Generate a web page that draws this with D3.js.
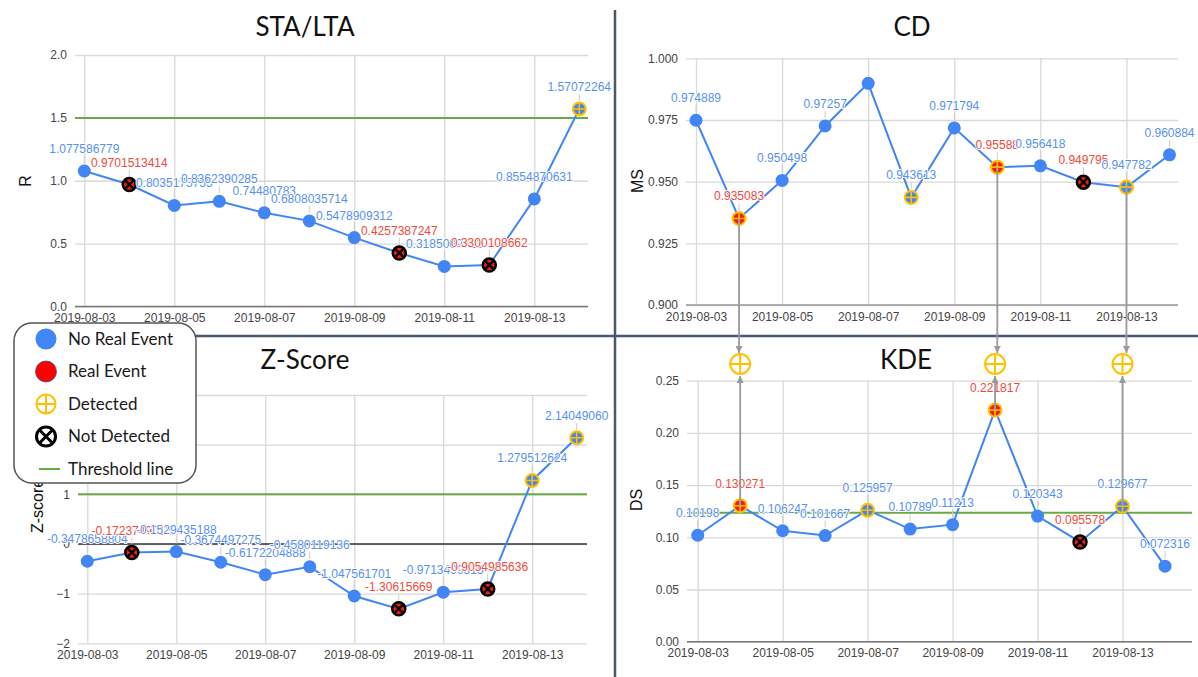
<!DOCTYPE html>
<html>
<head>
<meta charset="utf-8">
<script src="https://cdn.jsdelivr.net/npm/d3@7"></script>
<style>
  body { margin: 0; background: #fff; }
  svg { display: block; font-family: "Liberation Sans", Arial, sans-serif; }
</style>
</head>
<body>
<svg id="chart" width="1198" height="677"></svg>
<script>
// ---- data ----
var dates = ["2019-08-03", "2019-08-04", "2019-08-05", "2019-08-06", "2019-08-07", "2019-08-08",
             "2019-08-09", "2019-08-10", "2019-08-11", "2019-08-12", "2019-08-13", "2019-08-14"];
var realEvent = [0, 1, 0, 0, 0, 0, 0, 1, 0, 1, 0, 0];

var staltaValues = [1.077586779, 0.9701513414, 0.8035175755, 0.8362390285, 0.74480783, 0.6808035714,
                    0.5478909312, 0.4257387247, 0.3185009713, 0.3300108662, 0.8554870631, 1.57072264];
var staltaLabels = ["1.077586779", "0.9701513414", "0.8035175755", "0.8362390285", "0.74480783", "0.6808035714",
                    "0.5478909312", "0.4257387247", "0.3185009713", "0.3300108662", "0.8554870631", "1.57072264"];
var staltaDetected = [0, 0, 0, 0, 0, 0, 0, 0, 0, 0, 0, 1];

var cdValues = [0.974889, 0.935083, 0.950498, 0.97257, 0.98987, 0.943613,
                0.971794, 0.95588, 0.956418, 0.949795, 0.947782, 0.960884];
var cdLabels = ["0.974889", "0.935083", "0.950498", "0.97257", "", "0.943613",
                "0.971794", "0.95588", "0.956418", "0.949795", "0.947782", "0.960884"];
var cdDetected = [0, 1, 0, 0, 0, 1, 0, 1, 0, 0, 1, 0];

var zValues = [-0.3478658804, -0.1723749015, -0.1529435188, -0.3674497275, -0.6172204888, -0.4580119136,
               -1.047561701, -1.30615669, -0.9713499315, -0.9054985636, 1.279512624, 2.14049060];
var zLabels = ["-0.3478658804", "-0.1723749015", "-0.1529435188", "-0.3674497275", "-0.6172204888", "-0.4580119136",
               "-1.047561701", "-1.30615669", "-0.9713499315", "-0.9054985636", "1.279512624", "2.14049060"];
var zDetected = [0, 0, 0, 0, 0, 0, 0, 0, 0, 0, 1, 1];

var kdeValues = [0.10198, 0.130271, 0.106247, 0.101667, 0.125957, 0.10789,
                 0.11213, 0.221817, 0.120343, 0.095578, 0.129677, 0.072316];
var kdeLabels = ["0.10198", "0.130271", "0.106247", "0.101667", "0.125957", "0.10789",
                 "0.11213", "0.221817", "0.120343", "0.095578", "0.129677", "0.072316"];
var kdeDetected = [0, 1, 0, 0, 1, 0, 0, 1, 0, 0, 1, 0];

var legendItems = ["No Real Event", "Real Event", "Detected", "Not Detected", "Threshold line"];

// ---- styling ----
var blue = "#4285f4", red = "#f21c12", yellow = "#ffc000", green = "#6aaa45";
var labelBlue = "#5890f2", labelRed = "#ef4a3c";
var parse = d3.timeParse("%Y-%m-%d");
var fmtDate = d3.timeFormat("%Y-%m-%d");

var svg = d3.select("#chart");

var defs = svg.append("defs");
defs.append("marker")
    .attr("id", "arrow")
    .attr("viewBox", "0 0 10 10")
    .attr("refX", 10).attr("refY", 5)
    .attr("markerWidth", 7).attr("markerHeight", 7)
    .attr("markerUnits", "userSpaceOnUse")
    .attr("orient", "auto")
  .append("path")
    .attr("d", "M0,0L10,5L0,10Z")
    .attr("fill", "#9a9a9a");

// point marker: plain / detected (yellow ⊕) / missed real event (black ⊗)
function drawMarker(g, cx, cy, real, detected, r) {
  if (detected) {
    g.append("circle").attr("cx", cx).attr("cy", cy).attr("r", r)
      .attr("fill", real ? red : blue).attr("stroke", yellow).attr("stroke-width", 2);
    g.append("path")
      .attr("d", `M${cx - r},${cy}H${cx + r}M${cx},${cy - r}V${cy + r}`)
      .attr("stroke", yellow).attr("stroke-width", 1.6);
  } else if (real) {
    var k = r * 0.72;
    g.append("circle").attr("cx", cx).attr("cy", cy).attr("r", r)
      .attr("fill", red).attr("stroke", "#000").attr("stroke-width", 2.5);
    g.append("path")
      .attr("d", `M${cx - k},${cy - k}L${cx + k},${cy + k}M${cx - k},${cy + k}L${cx + k},${cy - k}`)
      .attr("stroke", "#000").attr("stroke-width", 2.4);
  } else {
    g.append("circle").attr("cx", cx).attr("cy", cy).attr("r", r).attr("fill", blue);
  }
}

function drawPanel(p) {
  var g = svg.append("g");

  var x = d3.scaleTime()
    .domain([parse(dates[0]), parse(dates[dates.length - 1])])
    .range([p.xFirst, p.xLast]);
  var y = d3.scaleLinear().domain(p.yDomain).range([p.bottom, p.top]);

  // y grid + labels
  var yAxis = g.append("g")
    .attr("transform", `translate(${p.left},0)`)
    .call(d3.axisLeft(y).tickValues(p.yTicks).tickFormat(d3.format(p.fmt))
      .tickSize(-(p.right - p.left)).tickPadding(8));
  yAxis.select(".domain").remove();
  yAxis.selectAll("line").attr("stroke", "#d9d9d9").attr("stroke-width", 1.3);
  yAxis.selectAll("text").attr("fill", "#444").style("font-size", "12px");

  // x grid + labels
  var xAxis = g.append("g")
    .attr("transform", `translate(0,${p.bottom})`)
    .call(d3.axisBottom(x).tickValues(dates.filter((d, i) => i % 2 === 0).map(parse))
      .tickFormat(fmtDate).tickSize(-(p.bottom - p.top)).tickPadding(7));
  xAxis.select(".domain").remove();
  xAxis.selectAll("line").attr("stroke", "#d9d9d9").attr("stroke-width", 1.3);
  xAxis.selectAll("text").attr("fill", "#444").style("font-size", "12px");

  // baseline
  g.append("line")
    .attr("x1", p.left).attr("x2", p.right)
    .attr("y1", y(p.baseline)).attr("y2", y(p.baseline))
    .attr("stroke", p.baselineColor).attr("stroke-width", 1.4);

  // threshold
  if (p.threshold != null) {
    g.append("line")
      .attr("x1", p.left).attr("x2", p.right)
      .attr("y1", y(p.threshold)).attr("y2", y(p.threshold))
      .attr("stroke", green).attr("stroke-width", 2);
  }

  // title + axis title
  g.append("text")
    .attr("x", p.titleX).attr("y", p.titleY)
    .attr("text-anchor", "middle")
    .style("font-family", "Lato, 'Open Sans', sans-serif")
    .style("font-size", "26px")
    .attr("fill", "#111")
    .text(p.title);
  g.append("text")
    .attr("transform", `translate(${p.axisTitleX},${p.axisTitleY}) rotate(-90)`)
    .attr("text-anchor", "middle")
    .attr("dy", "0.35em")
    .style("font-size", "16px")
    .attr("fill", "#111")
    .text(p.axisTitle);

  var pts = dates.map((d, i) => ({ date: parse(d), v: p.values[i], label: p.labels[i],
                                   real: realEvent[i], det: p.detected[i] }));

  g.append("path")
    .datum(pts)
    .attr("fill", "none")
    .attr("stroke", blue)
    .attr("stroke-width", 2)
    .attr("d", d3.line().x(d => x(d.date)).y(d => y(d.v)));

  // annotation stems
  g.selectAll(".stem")
    .data(pts.filter(d => d.label))
    .join("line")
      .attr("x1", d => x(d.date)).attr("x2", d => x(d.date))
      .attr("y1", d => y(d.v) - 8).attr("y2", d => y(d.v) - 15)
      .attr("stroke", "#ccc").attr("stroke-width", 1);

  pts.forEach(d => drawMarker(g, x(d.date), y(d.v), d.real, d.det, 6.5));

  g.selectAll(".lbl")
    .data(pts.filter(d => d.label))
    .join("text")
      .attr("x", d => x(d.date))
      .attr("y", d => y(d.v) - 18)
      .attr("text-anchor", "middle")
      .style("font-size", "12px")
      .attr("fill", d => d.real ? labelRed : labelBlue)
      .attr("stroke", "#fff").attr("stroke-width", 1.8)
      .attr("paint-order", "stroke")
      .text(d => d.label);

  return { x: x, y: y };
}

// ---- dividers ----
svg.append("line").attr("x1", 615).attr("x2", 615).attr("y1", 10).attr("y2", 677)
  .attr("stroke", "#4a5a6e").attr("stroke-width", 2.5);
svg.append("line").attr("x1", 15).attr("x2", 1198).attr("y1", 336).attr("y2", 336)
  .attr("stroke", "#4a5a6e").attr("stroke-width", 2.5);

var linkLayer = svg.append("g");

drawPanel({
  title: "STA/LTA", titleX: 305, titleY: 36, axisTitle: "R", axisTitleX: 25, axisTitleY: 181,
  left: 75, right: 588, top: 55, bottom: 306.5, xFirst: 84.3, xLast: 579.3,
  yDomain: [0, 2], yTicks: [0, 0.5, 1, 1.5, 2], fmt: ".1f",
  baseline: 0, baselineColor: "#777", threshold: 1.5,
  values: staltaValues, labels: staltaLabels, detected: staltaDetected
});

var cd = drawPanel({
  title: "CD", titleX: 912, titleY: 36, axisTitle: "MS", axisTitleX: 637, axisTitleY: 181,
  left: 686, right: 1178, top: 58.3, bottom: 305, xFirst: 696, xLast: 1169.5,
  yDomain: [0.9, 1.0], yTicks: [0.9, 0.925, 0.95, 0.975, 1.0], fmt: ".3f",
  baseline: 0.9, baselineColor: "#999", threshold: null,
  values: cdValues, labels: cdLabels, detected: cdDetected
});

drawPanel({
  title: "Z-Score", titleX: 305, titleY: 369, axisTitle: "Z-score", axisTitleX: 37, axisTitleY: 506,
  left: 78, right: 587, top: 395, bottom: 643.3, xFirst: 87.3, xLast: 576.7,
  yDomain: [-2, 3], yTicks: [-2, -1, 0, 1, 2, 3], fmt: "d",
  baseline: 0, baselineColor: "#333", threshold: 1,
  values: zValues, labels: zLabels, detected: zDetected
});

var kde = drawPanel({
  title: "KDE", titleX: 906, titleY: 369, axisTitle: "DS", axisTitleX: 636, axisTitleY: 500,
  left: 687, right: 1192, top: 380.7, bottom: 641.7, xFirst: 697.7, xLast: 1165,
  yDomain: [0, 0.25], yTicks: [0, 0.05, 0.1, 0.15, 0.2, 0.25], fmt: ".2f",
  baseline: 0, baselineColor: "#777", threshold: 0.1235,
  values: kdeValues, labels: kdeLabels, detected: kdeDetected
});

// ---- CD / KDE agreement links ----
dates.forEach((d, i) => {
  if (!(cdDetected[i] && kdeDetected[i])) return;
  var t = parse(d);
  var xc = cd.x(t), xk = kde.x(t);
  var cy = 364;
  linkLayer.append("line")
    .attr("x1", xc).attr("x2", xc).attr("y1", cd.y(cdValues[i])).attr("y2", cy - 11)
    .attr("stroke", "#9a9a9a").attr("stroke-width", 1.8).attr("marker-end", "url(#arrow)");
  linkLayer.append("line")
    .attr("x1", xk).attr("x2", xk).attr("y1", kde.y(kdeValues[i])).attr("y2", cy + 12)
    .attr("stroke", "#9a9a9a").attr("stroke-width", 1.8).attr("marker-end", "url(#arrow)");
  linkLayer.append("circle").attr("cx", xk).attr("cy", cy).attr("r", 10)
    .attr("fill", "#fff").attr("stroke", yellow).attr("stroke-width", 2);
  linkLayer.append("path")
    .attr("d", `M${xk - 10},${cy}H${xk + 10}M${xk},${cy - 10}V${cy + 10}`)
    .attr("stroke", yellow).attr("stroke-width", 2);
});
linkLayer.raise();

// ---- legend ----
var lg = svg.append("g");
lg.append("rect")
  .attr("x", 14).attr("y", 323).attr("width", 182).attr("height", 160)
  .attr("rx", 18).attr("ry", 18)
  .attr("fill", "#fff").attr("stroke", "#555").attr("stroke-width", 1.5);

var legendY = d3.scalePoint().domain(legendItems).range([339, 469]);
legendItems.forEach((name, i) => {
  var cy = legendY(name);
  if (i === 0) drawMarker(lg, 46, cy, 0, 0, 10.5);
  if (i === 1) lg.append("circle").attr("cx", 46).attr("cy", cy).attr("r", 10.5)
                 .attr("fill", "#ff0000").attr("stroke", "#3b4a8a").attr("stroke-width", 0.8);
  if (i === 2) {
    lg.append("circle").attr("cx", 46).attr("cy", cy).attr("r", 9.5)
      .attr("fill", "#fff").attr("stroke", yellow).attr("stroke-width", 2);
    lg.append("path").attr("d", `M36.5,${cy}H55.5M46,${cy - 9.5}V${cy + 9.5}`)
      .attr("stroke", yellow).attr("stroke-width", 2);
  }
  if (i === 3) {
    lg.append("circle").attr("cx", 46).attr("cy", cy).attr("r", 9.5)
      .attr("fill", "#fff").attr("stroke", "#000").attr("stroke-width", 3);
    lg.append("path").attr("d", `M39.3,${cy - 6.7}L52.7,${cy + 6.7}M39.3,${cy + 6.7}L52.7,${cy - 6.7}`)
      .attr("stroke", "#000").attr("stroke-width", 3);
  }
  if (i === 4) lg.append("line").attr("x1", 39).attr("x2", 60).attr("y1", cy).attr("y2", cy)
                 .attr("stroke", green).attr("stroke-width", 2);
  lg.append("text")
    .attr("x", 68).attr("y", cy).attr("dy", "0.35em")
    .style("font-family", "Lato, 'Open Sans', sans-serif")
    .style("font-size", "17px")
    .attr("fill", "#1a1a1a")
    .text(name);
});
</script>
</body>
</html>
